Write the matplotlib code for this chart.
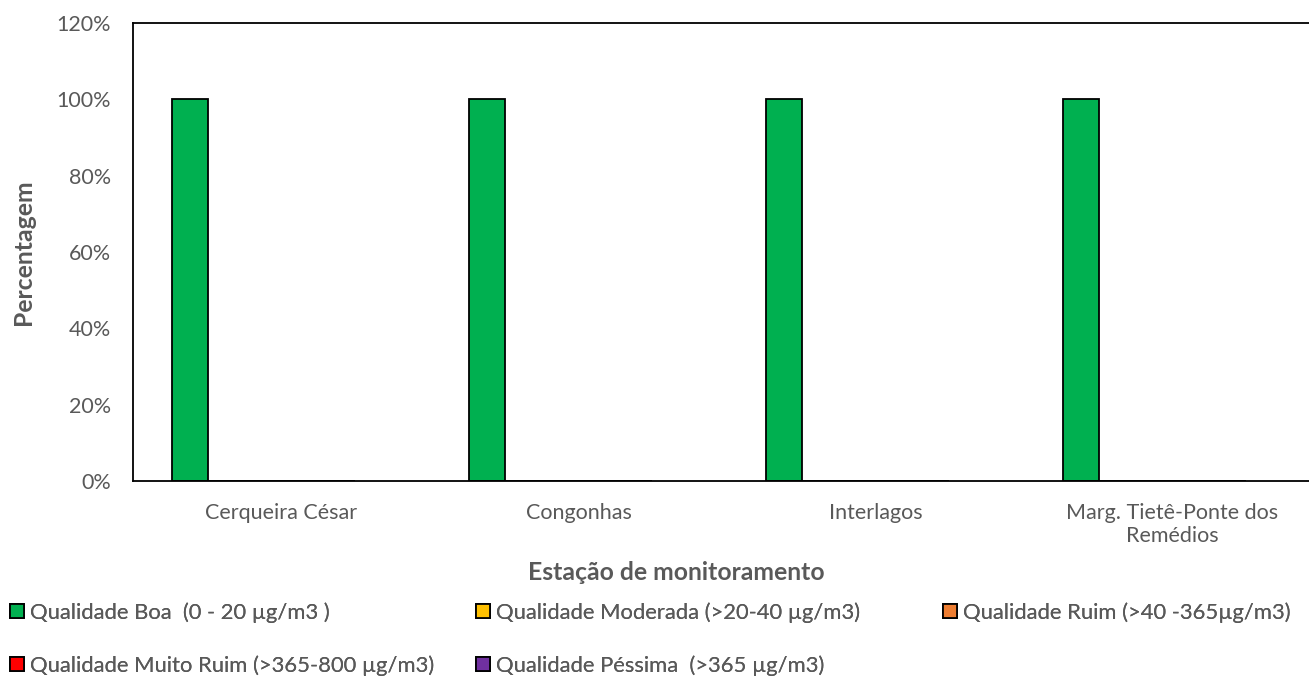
import numpy as np
import matplotlib.pyplot as plt
from matplotlib.ticker import PercentFormatter

plt.rcParams['font.family'] = ['Lato', 'DejaVu Sans']

stations = ['Cerqueira César', 'Congonhas', 'Interlagos',
            'Marg. Tietê-Ponte dos\nRemédios']
series = ['Qualidade Boa  (0 - 20 µg/m3 )',
          'Qualidade Moderada (>20-40 µg/m3)',
          'Qualidade Ruim (>40 -365µg/m3)',
          'Qualidade Muito Ruim (>365-800 µg/m3)',
          'Qualidade Péssima  (>365 µg/m3)']
colors = ['#00B050', '#FFC000', '#ED7D31', '#FF0000', '#7030A0']
boa = [100, 100, 100, 100]
moderada = [0, 0, 0, 0]
ruim = [0, 0, 0, 0]
muito_ruim = [0, 0, 0, 0]
pessima = [0, 0, 0, 0]
values = [boa, moderada, ruim, muito_ruim, pessima]

grey = '#595959'
fig = plt.figure(figsize=(13.09, 6.77), dpi=100)
ax = fig.add_axes([0.1016, 0.2895, 0.9076, 0.6765])

x = np.arange(len(stations))
width = 0.123
bars = []
for i, (name, vals, c) in enumerate(zip(series, values, colors)):
    b = ax.bar(x + (i - 2.5) * width, vals, width,
               color=c, edgecolor='black', linewidth=1.3, label=name)
    bars.append(b)

ax.set_xlim(-0.5, 3.5)
ax.set_ylim(0, 120)
ax.set_yticks(np.arange(0, 121, 20))
ax.yaxis.set_major_formatter(PercentFormatter(decimals=0))
ax.set_xticks(x)
ax.set_xticklabels(stations, linespacing=1.15)
ax.tick_params(length=0, labelsize=15.5, labelcolor=grey)
ax.tick_params(axis='x', pad=16)
ax.tick_params(axis='y', pad=16)
for side in ['left', 'top', 'bottom', 'right']:
    ax.spines[side].set_linewidth(1.3)
    ax.spines[side].set_color('black')

ax.set_ylabel('Percentagem', fontsize=17.8, fontweight='bold', color=grey)
ax.yaxis.set_label_coords(-0.0825, 0.5)
fig.text(676 / 1309, 1 - 573 / 677, 'Estação de monitoramento', fontsize=17.8,
         fontweight='bold', color=grey, ha='center', va='center')

# legend laid out in three columns below the chart
cols = [([0, 3], 0.0076), ([1, 4], 0.3636), ([2], 0.7204)]
for idx, xpos in cols:
    leg = fig.legend([bars[i] for i in idx], [series[i] for i in idx],
                     loc='upper left', bbox_to_anchor=(xpos, 1 - 602 / 677),
                     frameon=False, fontsize=15.8, handlelength=0.62,
                     handleheight=0.62, handletextpad=0.3,
                     labelspacing=1.5, borderaxespad=0, borderpad=0)
    for t in leg.get_texts():
        t.set_color(grey)
    fig.add_artist(leg)

fig.savefig('out.png', dpi=100)
